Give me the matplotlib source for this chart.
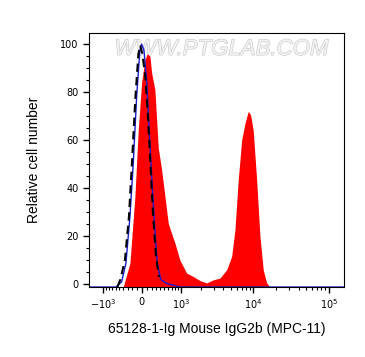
import numpy as np
import matplotlib
matplotlib.use('Agg')
import matplotlib.pyplot as plt
import matplotlib.patheffects as pe

# Biexponential-like display (arcsinh), width parameter
W = 675.0
BASE = -1.2

# Stained sample (red, filled)
red_x = [-406, -252, -145, -76, -6, 62, 109, 166, 203, 274, 349, 430, 513, 601,
         699, 801, 968, 1230, 1538, 1916, 2375, 2923, 3598, 4428, 5164, 5717,
         6325, 7020, 7763, 8586, 9241, 10004, 11097, 12272, 13568, 15053, 16646]
red_y = [-1.2, 8.7, 36.5, 64, 84, 93.5, 96, 95, 88, 81, 57, 47.6, 36.5, 25.4,
         21, 17, 10, 4.6, 3.2, 1.5, 0.5, 1.8, 2.5, 6, 11.5, 22.6,
         43.5, 60, 67, 72, 70.5, 64, 43.5, 20, 6, 0.5, -1.2]

# Isotype control (blue line)
blue_x = [-1600, -592, -444, -342, -252, -181, -109, -41, -6, 41, 97, 151, 209,
          274, 326, 406, 557, 968, 160000]
blue_y = [-1.2, -1.2, 1, 8.7, 28, 50, 78, 97.6, 100, 97.6, 85, 64, 43,
          22.6, 8.8, 2, 0.3, -1.2, -1.2]

# Unstained (black dashed)
black_x = [-552, -474, -365, -274, -209, -134, -72, -35, 10, 72, 124, 177, 230,
           296, 365]
black_y = [-1.2, 2, 10, 28, 50, 78, 96, 99.5, 96, 86, 70, 50, 30,
           12, 3]

xmajor = [-1000, 0, 1000, 10000, 100000]
xlabels = [r'$-10^3$', '0', r'$10^3$', r'$10^4$', r'$10^5$']
xminor = ([-s * m for s in [100] for m in range(1, 10)] +
          [s * m for s in [100, 1000, 10000] for m in range(1, 10)])


def fwd(x):
    return np.arcsinh(np.asarray(x) / W)


def inv(y):
    return W * np.sinh(np.asarray(y))


fig = plt.figure(figsize=(3.65, 3.57), dpi=100)
ax = fig.add_axes([0.244, 0.196, 0.698, 0.712])
ax.set_xscale('function', functions=(fwd, inv))

ax.fill_between(red_x, red_y, BASE, color='#ff0000', linewidth=0)
ax.plot(blue_x, blue_y, color='#1a1acc', linewidth=1.0)
ax.plot(black_x, black_y, color='black', linewidth=1.5, linestyle=(0, (4, 2.5)))

ax.set_xlim(-1620, 158000)
ax.set_ylim(BASE, 104.7)

ax.set_xticks(xmajor)
ax.set_xticklabels(xlabels)
ax.set_xticks(xminor, minor=True)
ax.set_yticks(np.arange(0, 101, 20))
ax.set_yticks(np.arange(0, 105, 5), minor=True)

ax.tick_params(axis='both', which='major', length=4, width=1, labelsize=7,
               direction='out')
ax.tick_params(axis='both', which='minor', length=2.5, width=0.8,
               direction='out')
for sp in ax.spines.values():
    sp.set_linewidth(0.8)

ax.set_ylabel('Relative cell number', fontsize=10, family='Liberation Sans',
              labelpad=14)
ax.set_xlabel('65128-1-Ig Mouse IgG2b (MPC-11)', fontsize=10,
              family='Liberation Sans', labelpad=8)

# watermark
ax.text(0.52, 0.935, 'WWW.PTGLAB.COM', transform=ax.transAxes, ha='center',
        va='center', fontsize=16, family='Liberation Sans', style='italic',
        color='#f2f2f2',
        path_effects=[pe.withStroke(linewidth=0.9, foreground='#cbcbcb')],
        zorder=0)

fig.savefig('out.png', dpi=100)
